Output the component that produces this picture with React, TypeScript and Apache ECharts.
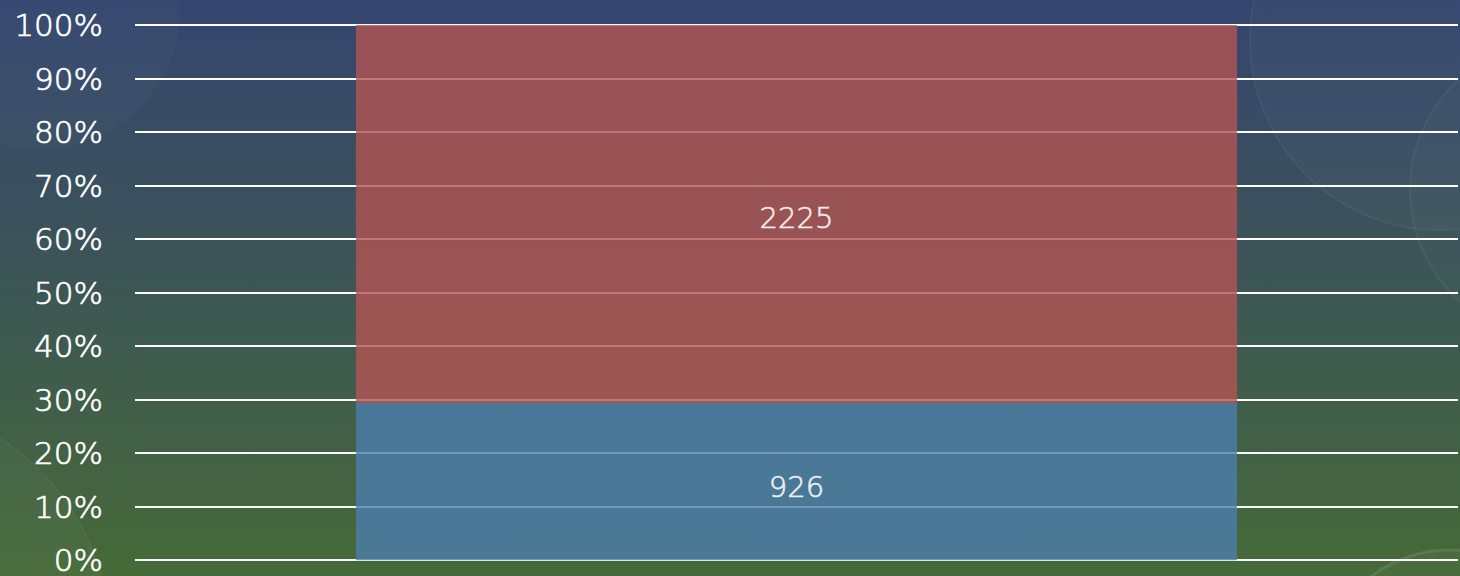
import React, { useEffect, useRef } from "react";
import * as echarts from "echarts";

const categories = [""];
const blueValues = [926];
const redValues = [2225];
const yTickLabels = ["0%", "10%", "20%", "30%", "40%", "50%", "60%", "70%", "80%", "90%", "100%"];

export default function App() {
  const ref = useRef<HTMLDivElement>(null);
  useEffect(() => {
    if (!ref.current) return;
    const chart = echarts.init(ref.current, undefined, { renderer: "svg" });
    const totals = categories.map((_, i) => blueValues[i] + redValues[i]);
    const bluePct = blueValues.map((v, i) => ({ value: (v / totals[i]) * 100, raw: v }));
    const redPct = redValues.map((v, i) => ({ value: (v / totals[i]) * 100, raw: v }));
    const font = "'DejaVu Sans', sans-serif";
    const textStyle = {
      color: "#ffffff",
      fontFamily: font,
      fontWeight: 200 as any,
      textBorderColor: "#ffffff",
      textBorderWidth: 0.7,
    };
    chart.setOption({
      animation: false,
      backgroundColor: new echarts.graphic.LinearGradient(0, 0, 0, 1, [
        { offset: 0, color: "#34456f" },
        { offset: 0.45, color: "#3c5458" },
        { offset: 1, color: "#466a37" },
      ]),
      graphic: [
        { type: "circle", shape: { cx: 1440, cy: 40, r: 190 }, style: { fill: "rgba(255,255,255,0.025)", stroke: "rgba(255,255,255,0.05)", lineWidth: 2 }, silent: true },
        { type: "circle", shape: { cx: 1560, cy: 190, r: 150 }, style: { fill: "rgba(255,255,255,0.02)", stroke: "rgba(255,255,255,0.05)", lineWidth: 2 }, silent: true },
        { type: "circle", shape: { cx: 1450, cy: 680, r: 130 }, style: { fill: "rgba(255,255,255,0.025)", stroke: "rgba(255,255,255,0.1)", lineWidth: 3 }, silent: true },
        { type: "circle", shape: { cx: -130, cy: 640, r: 240 }, style: { fill: "rgba(255,255,255,0.03)", stroke: "rgba(255,255,255,0.04)", lineWidth: 2 }, silent: true },
        { type: "circle", shape: { cx: 40, cy: 10, r: 140 }, style: { fill: "rgba(255,255,255,0.025)" }, silent: true },
      ],
      grid: { left: 135, right: 2, top: 25, bottom: 14, containLabel: false },
      xAxis: {
        type: "category",
        data: categories,
        axisLine: { show: false },
        axisTick: { show: false },
        axisLabel: { show: false },
      },
      yAxis: {
        type: "value",
        min: 0,
        max: 100,
        interval: 10,
        axisLine: { show: false },
        axisTick: { show: false },
        axisLabel: {
          ...textStyle,
          margin: 32,
          fontSize: 31,
          formatter: (v: number) => yTickLabels[Math.round(v / 10)],
        },
        splitLine: { lineStyle: { color: "#ffffff", width: 2 } },
      },
      series: [
        {
          type: "bar",
          stack: "total",
          data: bluePct,
          barWidth: "66.6%",
          itemStyle: { color: "#4c7dad", opacity: 0.8 },
          label: {
            ...textStyle,
            show: true,
            position: "inside",
            fontSize: 29,
            offset: [0, 5],
            formatter: (p: any) => String(p.data.raw),
          },
        },
        {
          type: "bar",
          stack: "total",
          data: redPct,
          barWidth: "66.6%",
          itemStyle: { color: "#b35453", opacity: 0.8 },
          label: {
            ...textStyle,
            show: true,
            position: "inside",
            fontSize: 29,
            offset: [0, 4],
            formatter: (p: any) => String(p.data.raw),
          },
        },
      ],
    });
    return () => chart.dispose();
  }, []);
  return <div ref={ref} style={{ position: "fixed", left: 0, top: 0, width: 1460, height: 576 }} />;
}
